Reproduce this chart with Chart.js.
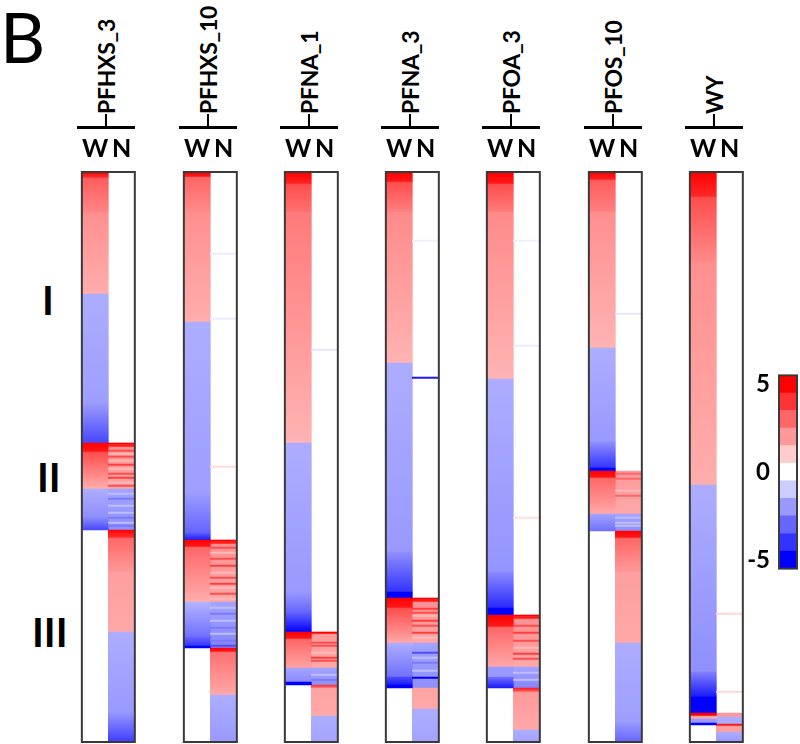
<!DOCTYPE html>
<html>
<head>
<meta charset="utf-8">
<script src="https://cdn.jsdelivr.net/npm/chart.js@4"></script>
<style>
  body { margin: 0; background: #fff; }
  #page { position: relative; width: 800px; height: 744px; overflow: hidden; font-family: Lato, 'DejaVu Sans', sans-serif; color: #000; }
  .panel, .legend { position: absolute; top: 0; }
  .head { position: absolute; top: 0; height: 114px; width: 30px; writing-mode: vertical-rl; transform: rotate(180deg); text-align: start; font-weight: bold; font-size: 23px; letter-spacing: -0.3px; line-height: 30px; white-space: nowrap; }
  .rule { position: absolute; top: 126px; height: 3px; background: #000; }
  .tick { position: absolute; top: 114px; width: 2px; height: 13px; background: #000; }
  .roman { position: absolute; font-weight: bold; font-size: 40px; line-height: 40px; }
  #letter { position: absolute; left: 0; top: -4px; font-size: 70px; line-height: 80px; }
</style>
</head>
<body>
<div id="page">
  <div id="letter">B</div>
</div>
<script>
// chart values, rows are counted from the top of each heat map (0 .. 570)
var panelNames = ['PFHXS_3', 'PFHXS_10', 'PFNA_1', 'PFNA_3', 'PFOA_3', 'PFOS_10', 'WY'];
var columnLabels = ['W', 'N'];
var clusterLabels = ['I', 'II', 'III'];
var legendTicks = [5, 0, -5];
var legendSteps = [5, 4, 3, 2, 1, 0, -1, -2, -3, -4, -5];

// blocks: [first row, last row, fold change at top, fold change at bottom]
// lines: [row, fold change]
var pfhxs3W = [[0,6,5,4],[6,40,3.2,2.4],[40,122,2.2,1.6],[122,230,-1.6,-1.9],[230,271,-1.9,-3.6],[271,280,5,4.5],[280,317,3.5,1.6],[317,345,-1.6,-2.2],[345,358,-2.2,-3.6]];
var pfhxs3N = [[271,317,2.2,1.7],[317,358,-1.8,-2.2],[358,366,5,4],[366,400,3,2],[400,460,1.9,1.7],[460,540,-1.6,-2],[540,570,-2,-3.8]];
var pfhxs3Lines = [[271,5],[273,4.5],[278,3.5],[281,1.4],[284,3.5],[288,1.4],[292,3.8],[296,1.4],[301,3.5],[305,3.8],[310,1.4],[313,3.5],[321,-1.3],[326,-2.6],[333,-1.3],[340,-1.3],[345,-2.6],[350,-1.3],[353,-2.6]];

var pfhxs10W = [[0,5,5,4.5],[5,40,3,2.3],[40,150,2.2,1.6],[150,320,-1.6,-1.9],[320,360,-1.9,-3],[360,368,-3,-4.5],[368,375,5,4.5],[375,430,3,1.6],[430,465,-1.5,-2.8],[465,474,-3,-4],[474,476,-5,-5]];
var pfhxs10N = [[368,430,2.2,1.7],[430,476,-1.8,-2.4],[476,480,5,4.5],[480,523,2.8,1.7],[523,570,-1.6,-2]];
var pfhxs10Lines = [[81,-0.4],[146,-0.4],[294,0.7],[368,5],[370,4.5],[375,3.5],[380,1.4],[386,3.5],[393,3.8],[400,1.4],[405,3.5],[411,3.8],[415,1.4],[421,3.5],[426,1.4],[435,-1.3],[441,-2.6],[448,-1.3],[455,-2.6],[461,-1.3],[468,-2.6],[473,-3.5]];

var pfna1W = [[0,12,5,4.3],[12,40,3.5,2.8],[40,271,2.6,1.5],[271,420,-1.6,-2],[420,440,-2,-3],[440,460,-3,-5],[460,467,5,4.5],[467,496,3,1.8],[496,510,-1.8,-2.3],[510,513,-5,-5]];
var pfna1N = [[460,496,2,1.7],[496,513,-1.8,-2.2],[513,516,4,3],[516,544,1.8,1.7],[544,570,-1.6,-1.8]];
var pfna1Lines = [[177,-0.5],[460,5],[470,3.5],[473,3.5],[480,1.4],[485,3.8],[488,3.5],[502,-1.3],[507,-2.6]];

var pfna3W = [[0,10,5,4.5],[10,40,3.5,2.5],[40,191,2.3,1.5],[191,380,-1.6,-2],[380,420,-2.2,-4],[420,426,-5,-5],[426,436,5,4.5],[436,471,3.5,1.7],[471,505,-1.6,-2.8],[505,513,-3.5,-4.5],[513,516,-5,-5]];
var pfna3N = [[426,471,2.2,1.7],[471,516,-1.8,-2.2],[516,537,1.8,1.7],[537,570,-1.6,-1.8]];
var pfna3Lines = [[68,-0.3],[205,-4.5],[426,5],[428,4.5],[436,3.8],[440,3.5],[443,1.4],[448,3.8],[453,3.5],[460,3.8],[465,1.4],[480,-3.5],[485,-1.3],[490,-2.6],[498,-1.3],[505,-5]];

var pfoa3W = [[0,12,5,4.5],[12,40,3.5,2.6],[40,207,2.3,1.5],[207,400,-1.6,-2.1],[400,436,-2.3,-4.2],[436,443,-5,-5],[443,455,5,4.5],[455,495,3,1.7],[495,505,-2,-2],[505,516,-2.8,-4.5]];
var pfoa3N = [[443,495,2.2,1.7],[495,516,-1.8,-2.4],[516,520,4.5,3],[520,558,2,1.7],[558,570,-1.6,-1.8]];
var pfoa3Lines = [[68,-0.3],[173,-0.4],[345,0.6],[443,5],[445,4.5],[453,3.5],[460,3.8],[468,3.5],[475,1.4],[481,3.8],[486,3.5],[500,-1.3],[507,-1.3]];

var pfos10W = [[0,8,5,4.3],[8,40,3.2,2.5],[40,176,2.2,1.5],[176,270,-1.6,-2],[270,296,-2.2,-4],[296,299,-5,-5],[299,306,5,4.5],[306,342,3,1.7],[342,359,-1.8,-2.8]];
var pfos10N = [[299,342,2,1.7],[342,359,-1.8,-2.2],[359,366,5,4.5],[366,400,3,2],[400,471,1.9,1.7],[471,550,-1.6,-1.9],[550,570,-2,-3]];
var pfos10Lines = [[141,-0.5],[301,3],[306,3],[318,1.4],[323,3],[345,-1.3],[350,-1.3],[353,-1.3]];

var wyW = [[0,25,5,4.2],[25,90,3.5,2.3],[90,313,2.2,1.6],[313,500,-1.6,-2.2],[500,525,-2.5,-4.5],[525,541,-5,-5],[541,544,5,5],[544,547,1.7,1.7],[547,551,-2,-2],[551,553,-5,-5]];
var wyN = [[541,545,2,2],[545,552,-1.6,-1.6],[552,554,4.5,4.5],[554,560,1.9,1.9],[560,570,-1.6,-2]];
var wyLines = [[441,0.8],[519,0.8]];

var panelW = [pfhxs3W, pfhxs10W, pfna1W, pfna3W, pfoa3W, pfos10W, wyW];
var panelN = [pfhxs3N, pfhxs10N, pfna1N, pfna3N, pfoa3N, pfos10N, wyN];
var panelLines = [pfhxs3Lines, pfhxs10Lines, pfna1Lines, pfna3Lines, pfoa3Lines, pfos10Lines, wyLines];

// page layout
var panelLeft = [77, 179, 280, 381, 482, 584, 685];
var clusterPos = [[42, 280], [37, 457], [32, 612]];

// white -> red for up, white -> blue for down, saturates at +-5
function heat(v) {
    var t = Math.min(1, Math.abs(v) / 5);
    var c = Math.round(255 * (1 - t));
    return v >= 0 ? 'rgb(255,' + c + ',' + c + ')' : 'rgb(' + c + ',' + c + ',255)';
}

function fill(ctx) {
    var d = ctx.raw;
    if (!d || !ctx.chart.scales.y) return '#fff';
    var y = ctx.chart.scales.y;
    var y0 = y.getPixelForValue(d.y[0]), y1 = y.getPixelForValue(d.y[1]);
    if (!isFinite(y0) || !isFinite(y1) || y0 === y1) return heat(d.top);
    var g = ctx.chart.ctx.createLinearGradient(0, y0, 0, y1);
    g.addColorStop(0, heat(d.top));
    g.addColorStop(1, heat(d.bottom));
    return g;
}

function blocks(col, rows) {
    return rows.map(function(r) { return {x: col, y: [r[0], r[1]], top: r[2], bottom: r[3]}; });
}
function lines(col, rows) {
    return rows.map(function(r) { return {x: col, y: [r[0], r[0] + 1.4], top: r[1], bottom: r[1]}; });
}

var frame = {
    id: 'frame',
    afterDatasetsDraw: function(chart) {
        var a = chart.chartArea, c = chart.ctx;
        c.save();
        c.strokeStyle = '#3a3a3a';
        c.lineWidth = 2;
        c.strokeRect(a.left, a.top, a.right - a.left, a.bottom - a.top);
        c.restore();
    }
};

var page = document.getElementById('page');

function addDiv(cls, style, text) {
    var d = document.createElement('div');
    d.className = cls;
    d.style.cssText = style;
    if (text) d.textContent = text;
    page.appendChild(d);
    return d;
}

clusterLabels.forEach(function(t, i) {
    addDiv('roman', 'left:' + clusterPos[i][0] + 'px;top:' + clusterPos[i][1] + 'px', t);
});

panelNames.forEach(function(name, i) {
    var left = panelLeft[i];
    addDiv('head', 'left:' + (left + 14) + 'px', name);
    addDiv('rule', 'left:' + left + 'px;width:58px');
    addDiv('tick', 'left:' + (left + 28) + 'px');

    var canvas = document.createElement('canvas');
    canvas.className = 'panel';
    canvas.width = 66;
    canvas.height = 744;
    canvas.style.left = (left - 4) + 'px';
    page.appendChild(canvas);

    // Chart.js paints the last dataset first, so the stripes go first to end up on top
    new Chart(canvas.getContext('2d'), {
        type: 'bar',
        data: {
            labels: columnLabels,
            datasets: [
                {label: name + ' lines', data: lines('N', panelLines[i]), backgroundColor: fill},
                {label: name + ' W', data: blocks('W', panelW[i]), backgroundColor: fill},
                {label: name + ' N', data: blocks('N', panelN[i]), backgroundColor: fill}
            ]
        },
        options: {
            responsive: false,
            animation: false,
            events: [],
            layout: {padding: {left: 4, right: 4, top: 132, bottom: 2}},
            datasets: {bar: {categoryPercentage: 1, barPercentage: 1, grouped: false, borderWidth: 0}},
            plugins: {legend: {display: false}, tooltip: {enabled: false}, colors: {enabled: false}},
            scales: {
                x: {
                    position: 'top',
                    grid: {display: false, drawTicks: false},
                    border: {display: false},
                    ticks: {color: '#000', padding: 8, maxRotation: 0, minRotation: 0, autoSkip: false,
                        font: {family: 'Lato', size: 25, weight: 'bold'}},
                    afterFit: function(s) { s.height = 40; }
                },
                y: {display: false, min: 0, max: 570, reverse: true}
            }
        },
        plugins: [frame]
    });
});

// colour key
var keyCanvas = document.createElement('canvas');
keyCanvas.className = 'legend';
keyCanvas.width = 60;
keyCanvas.height = 240;
keyCanvas.style.left = '740px';
keyCanvas.style.top = '352px';
page.appendChild(keyCanvas);

new Chart(keyCanvas.getContext('2d'), {
    type: 'bar',
    data: {
        labels: ['key'],
        datasets: [{
            label: 'key',
            data: legendSteps.map(function(v) { return {x: 'key', y: [v - 0.5, v + 0.5], top: v, bottom: v}; }),
            backgroundColor: function(ctx) { return ctx.raw ? heat(ctx.raw.top) : '#fff'; }
        }]
    },
    options: {
        responsive: false,
        animation: false,
        events: [],
        layout: {padding: {left: 0, right: 3, top: 10, bottom: 10}},
        datasets: {bar: {categoryPercentage: 1, barPercentage: 1, borderWidth: 0}},
        plugins: {legend: {display: false}, tooltip: {enabled: false}, colors: {enabled: false}},
        scales: {
            x: {display: false},
            y: {
                min: -5.5, max: 5.5,
                grid: {display: false, drawTicks: false},
                border: {display: false},
                ticks: {color: '#000', padding: 9, font: {family: 'Lato', size: 24, weight: 'bold'}},
                afterBuildTicks: function(s) { s.ticks = legendTicks.map(function(v) { return {value: v}; }); },
                afterFit: function(s) { s.width = 39; }
            }
        }
    },
    plugins: [frame]
});
</script>
</body>
</html>
